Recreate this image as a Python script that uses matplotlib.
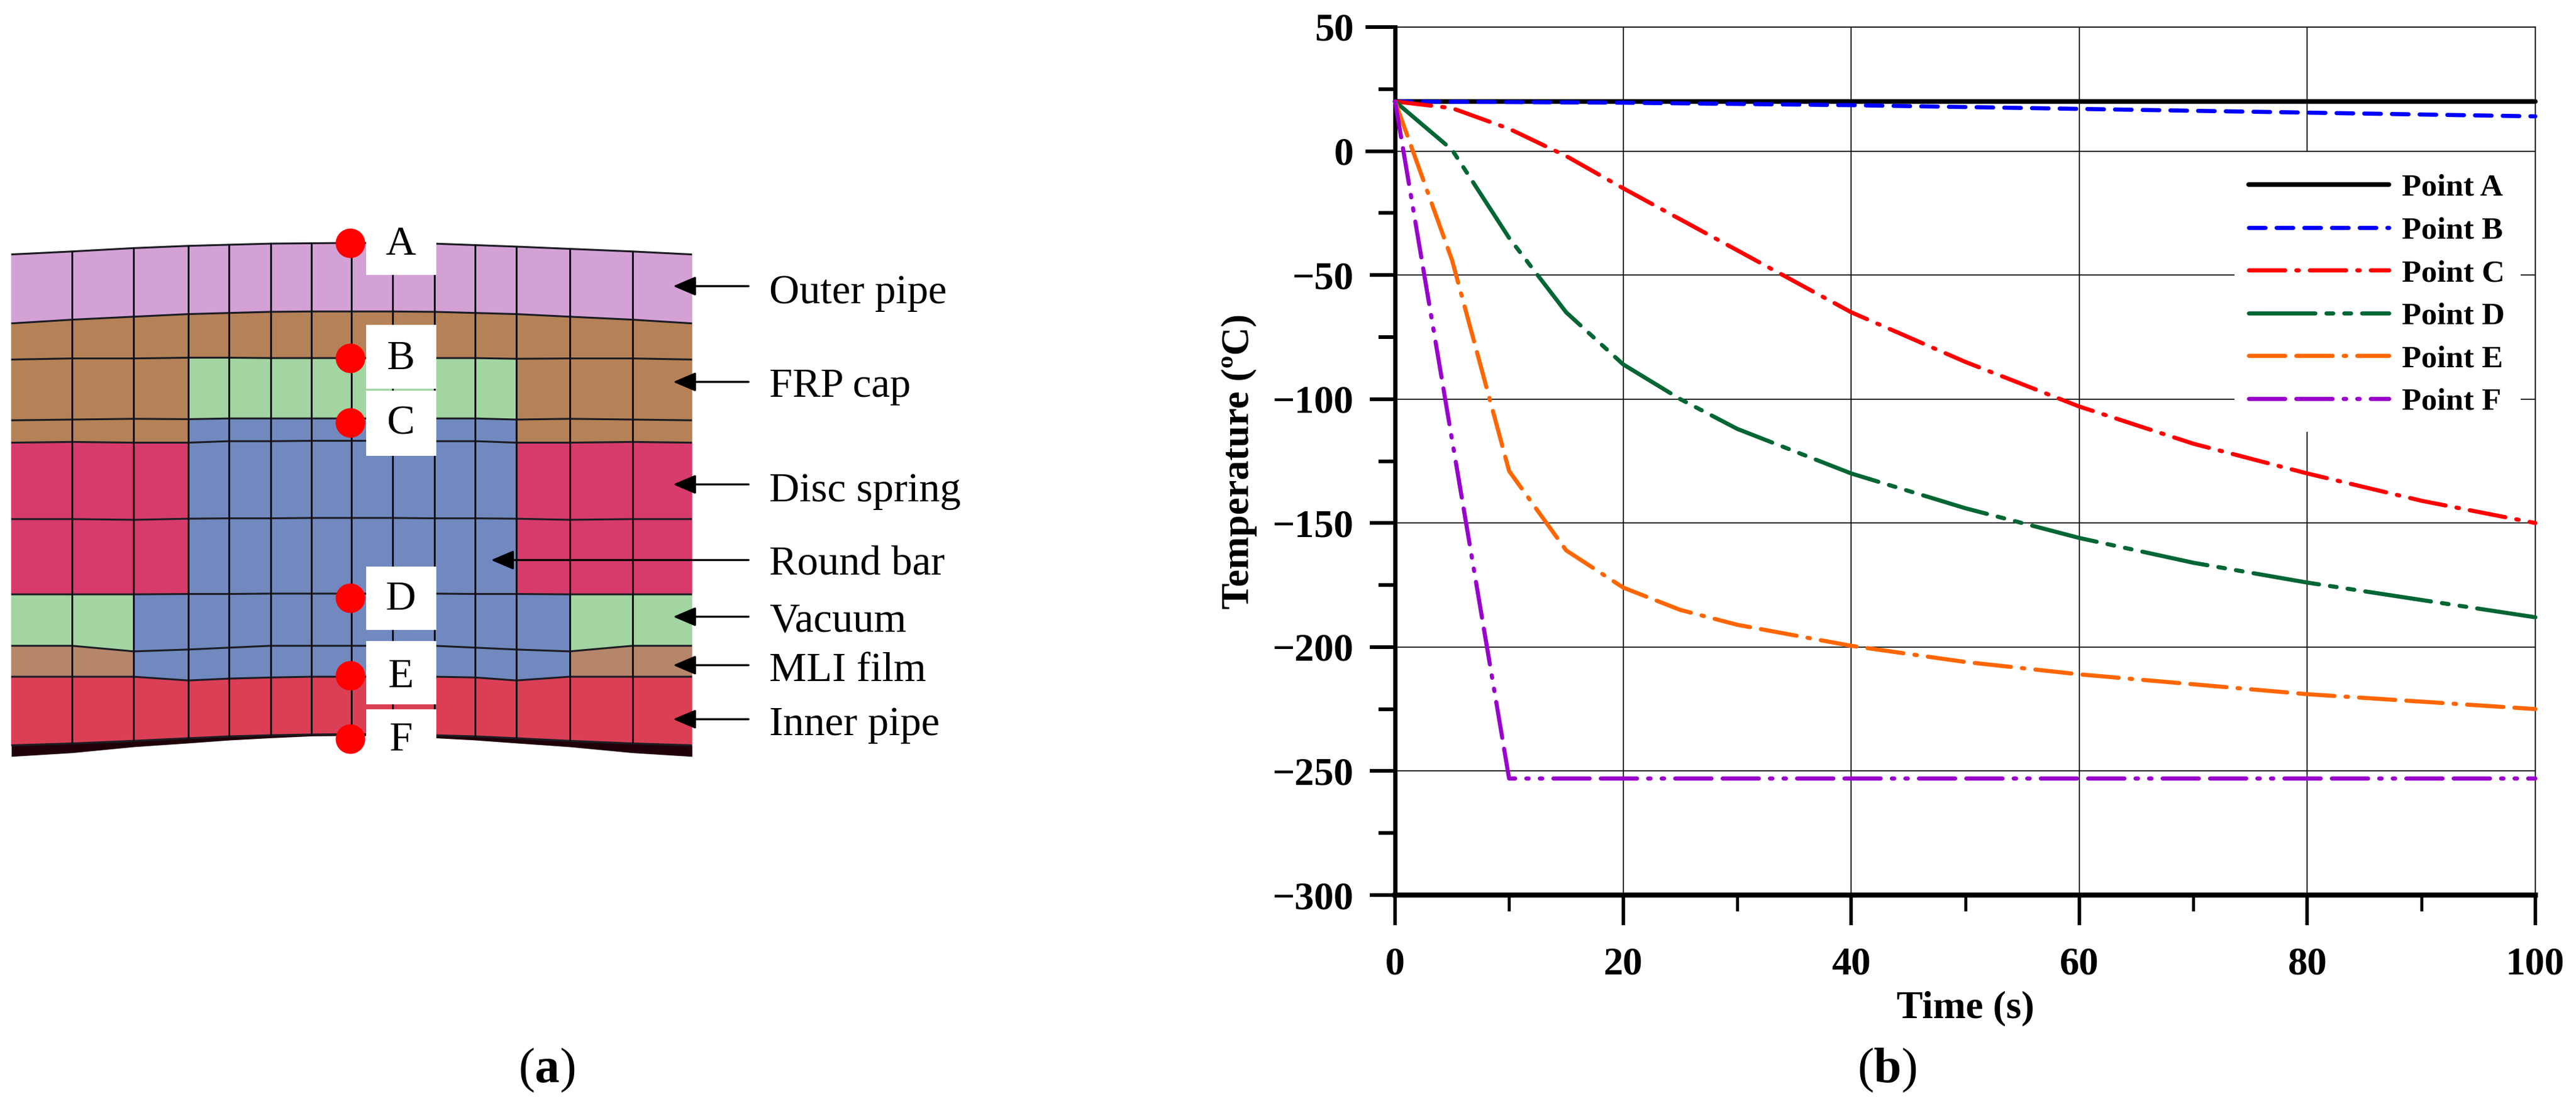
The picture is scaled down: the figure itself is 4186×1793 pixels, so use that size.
import matplotlib
matplotlib.use("Agg")
import matplotlib.pyplot as plt
from matplotlib.patches import Polygon, Rectangle
from matplotlib.transforms import Affine2D
from matplotlib.ticker import MultipleLocator, FixedLocator

plt.rcParams['font.family'] = ['Liberation Serif', 'DejaVu Serif']
plt.rcParams['mathtext.fontset'] = 'custom'
plt.rcParams['mathtext.rm'] = 'Liberation Serif'
plt.rcParams['mathtext.bf'] = 'Liberation Serif:bold'
plt.rcParams['lines.scale_dashes'] = False

W, H = 4186, 1793
DPI = 100

# ---------------- data: temperature curves ----------------
time_a = [0, 100]
temp_a = [20, 20]
time_b = [0, 20, 40, 60, 80, 100]
temp_b = [20, 19.5, 18.5, 17, 15.5, 14]
time_c = [0, 5, 10, 15, 20, 30, 40, 50, 60, 70, 80, 90, 100]
temp_c = [20, 17.3, 9, -2, -15, -40, -65, -85, -103, -118, -130, -141, -150]
time_d = [0, 5, 10, 15, 20, 25, 30, 40, 50, 60, 70, 80, 90, 100]
temp_d = [20, 0.5, -35, -65, -86, -100, -112, -130, -144, -156, -166, -174, -181, -188]
time_e = [0, 5, 10, 15, 20, 25, 30, 40, 50, 60, 70, 80, 90, 100]
temp_e = [20, -44, -129, -161, -176, -185, -191, -199.5, -206, -211, -215, -219, -222, -225]
time_f = [0, 10, 100]
temp_f = [20, -253, -253]
series_names = ['Point A', 'Point B', 'Point C', 'Point D', 'Point E', 'Point F']
series_colors = ['#000000', '#0000FF', '#FF0000', '#006633', '#FF6600', '#9900CC']
px = 0.72
series_styles = ['-',
                 (0, (27*px, 18*px)),
                 (0, (59*px, 18*px, 4*px, 18*px)),
                 (0, (108*px, 18*px, 11*px, 18*px, 11*px, 18*px)),
                 (0, (59*px, 18*px, 59*px, 18*px, 4*px, 18*px)),
                 (0, (59*px, 18*px, 59*px, 18*px, 4*px, 18*px, 4*px, 18*px))]
y_major = [50, 0, -50, -100, -150, -200, -250, -300]
y_labels = ['50', '0', '\u221250', '\u2212100', '\u2212150', '\u2212200', '\u2212250', '\u2212300']
x_major = [0, 20, 40, 60, 80, 100]

# ---------------- data: mesh of the left panel ----------------
col_x = [18, 115, 213, 300, 365, 431, 496, 560, 625, 692, 757, 822, 907, 1007, 1102]
row_y = [
    [105, 97, 88, 82, 79, 76, 75, 74, 75, 76, 80, 84, 90, 97, 105],
    [290, 280, 272, 265, 262, 259, 258, 258, 258, 259, 262, 265, 272, 280, 290],
    [387, 384, 384, 382, 382, 383, 383, 383, 383, 383, 383, 385, 384, 384, 387],
    [550, 548, 546, 547, 545, 545, 545, 545, 545, 545, 545, 548, 546, 548, 550],
    [610, 608, 610, 610, 606, 606, 605, 605, 605, 606, 606, 610, 610, 608, 610],
    [815, 815, 817, 814, 813, 813, 812, 812, 812, 813, 813, 814, 817, 815, 815],
    [1017, 1017, 1017, 1016, 1016, 1015, 1015, 1015, 1015, 1015, 1016, 1016, 1017, 1017, 1017],
    [1155, 1155, 1170, 1165, 1160, 1155, 1155, 1155, 1155, 1155, 1160, 1165, 1170, 1155, 1155],
    [1238, 1238, 1238, 1248, 1243, 1240, 1238, 1238, 1238, 1238, 1240, 1248, 1238, 1238, 1238],
    [1422, 1417, 1410, 1403, 1398, 1395, 1393, 1392, 1393, 1395, 1398, 1403, 1410, 1417, 1422],
]
base_y = [1452, 1442, 1426, 1416, 1408, 1402, 1397, 1396, 1397, 1402, 1408, 1416, 1426, 1442, 1452]
regions = ['P' * 14,
           'T' * 14,
           'TTT' + 'G' * 8 + 'TTT',
           'TTT' + 'U' * 8 + 'TTT',
           'CCC' + 'U' * 8 + 'CCC',
           'CCC' + 'U' * 8 + 'CCC',
           'GG' + 'U' * 10 + 'GG',
           'LL' + 'U' * 10 + 'LL',
           'R' * 14]
region_colors = {'P': '#D4A1D5', 'T': '#B58258', 'G': '#A2D5A2', 'U': '#7189BF',
                 'C': '#D63B6B', 'L': '#B6866A', 'R': '#DA3F56'}
box_x = [583, 695]
box_spans = [(70, 160), (293, 465), (470, 645), (942, 1112), (1142, 1312), (1326, 1455)]
point_letters = ['A', 'B', 'C', 'D', 'E', 'F']
point_y = [75, 383, 557, 1027, 1235, 1405]
point_x = 558
part_names = ['Outer pipe', 'FRP cap', 'Disc spring', 'Round bar', 'Vacuum', 'MLI film', 'Inner pipe']
part_arrow_y = [190, 447, 722, 925, 1077, 1207, 1352]
part_arrow_tip = [1072, 1072, 1072, 782, 1072, 1072, 1072]
part_text_y = [208, 460, 740, 938, 1090, 1222, 1368]

fig = plt.figure(figsize=(W / DPI, H / DPI), dpi=DPI, facecolor='white')

# ---------------- left panel ----------------
axa = fig.add_axes([0, 1 - 1300 / H, 1600 / W, 950 / H])
axa.set_xlim(0, 1568)
axa.set_ylim(1568, 0)
axa.axis('off')
for r, code in enumerate(regions):
    for c, k in enumerate(code):
        pts = [(col_x[c], row_y[r][c]), (col_x[c + 1], row_y[r][c + 1]),
               (col_x[c + 1], row_y[r + 1][c + 1]), (col_x[c], row_y[r + 1][c])]
        axa.add_patch(Polygon(pts, closed=True, facecolor=region_colors[k], edgecolor=region_colors[k], lw=0.5))
axa.fill_between(col_x, row_y[-1], base_y, color='#200008', lw=0)
for ys in row_y:
    axa.plot(col_x, ys, color='#1c1c24', lw=2.2, solid_capstyle='butt')
for c, x in enumerate(col_x[1:-1], start=1):
    axa.plot([x, x], [row_y[0][c], row_y[-1][c]], color='#101018', lw=2.2)
for (y0, y1), letter, y in zip(box_spans, point_letters, point_y):
    axa.add_patch(Rectangle((box_x[0], y0), box_x[1] - box_x[0], y1 - y0, facecolor='white', edgecolor='none', zorder=4))
    axa.text(638, y + 3, letter, fontsize=49, ha='center', va='center', zorder=6)
axa.scatter([point_x] * len(point_y), point_y, s=1195, color='#FF0000', linewidths=0, zorder=5)
for name, ay, tip, ty in zip(part_names, part_arrow_y, part_arrow_tip, part_text_y):
    axa.annotate('', xy=(tip, ay), xytext=(1192, ay), zorder=6,
                 arrowprops=dict(arrowstyle='-|>,head_length=0.75,head_width=0.32', color='black', lw=2.4,
                                 shrinkA=0, shrinkB=0, mutation_scale=30))
    axa.text(1225, ty, name, fontsize=49, ha='left', va='center', zorder=6, clip_on=False)

# ---------------- right panel ----------------
L, R, T, B = 2267, 4120, 44, 1455
ax = fig.add_axes([L / W, 1 - B / H, (R - L) / W, (B - T) / H])
ax.set_xlim(0, 100)
ax.set_ylim(-300, 50)
ax.xaxis.set_major_locator(FixedLocator(x_major))
ax.xaxis.set_minor_locator(MultipleLocator(10))
ax.yaxis.set_major_locator(FixedLocator(y_major))
ax.yaxis.set_minor_locator(MultipleLocator(25))
ax.set_xticklabels([str(v) for v in x_major], fontsize=46, fontweight='bold')
ax.set_yticklabels(y_labels, fontsize=46, fontweight='bold')
ax.grid(True, which='major', color='black', lw=1.2, zorder=1)
ax.set_axisbelow(True)
ax.tick_params(axis='y', which='major', length=29.5, width=4.3, pad=19)
ax.tick_params(axis='y', which='minor', length=19.4, width=4.3)
ax.tick_params(axis='x', which='major', length=35, width=4, pad=26)
ax.tick_params(axis='x', which='minor', length=19, width=3.5)
for tick, v in zip(ax.yaxis.get_major_ticks(), y_major):
    if v >= 0:
        tick.tick1line.set_markersize(34.5)
for s in ('top', 'right'):
    ax.spines[s].set_linewidth(1.2)
ax.spines['left'].set_linewidth(5)
ax.spines['bottom'].set_linewidth(6)
blank = Rectangle((3631, 247), 465, 455, facecolor='white', edgecolor='none', zorder=1.5)
ax.add_patch(blank)
blank.set_transform(Affine2D().scale(1, -1).translate(0, H))

curves = [(time_a, temp_a), (time_b, temp_b), (time_c, temp_c), (time_d, temp_d), (time_e, temp_e), (time_f, temp_f)]
for (t, v), name, col, ls in zip(curves, series_names, series_colors, series_styles):
    ax.plot(t, v, color=col, lw=4.8 if name != 'Point A' else 5.4, ls=ls, label=name, clip_on=False, zorder=3,
            dash_capstyle='round', solid_capstyle='round', dash_joinstyle='round')

leg = ax.legend(loc='upper left', bbox_to_anchor=((3654 - L) / (R - L), 1 - (282 - T) / (B - T)),
                frameon=False, handlelength=4.44, handletextpad=0.41,
                labelspacing=0.44, borderpad=0, borderaxespad=0,
                prop={'size': 37, 'weight': 'bold'})
ax.set_xlabel('Time (s)', fontsize=46, fontweight='bold')
ax.xaxis.set_label_coords(0.5, 1 - (1639 - T) / (B - T))
ax.xaxis.label.set_verticalalignment('center')
ax.set_ylabel('Temperature (\u00baC)', fontsize=46, fontweight='bold')
ax.yaxis.set_label_coords((2014 - L) / (R - L), 0.5)
ax.yaxis.label.set_verticalalignment('center')

# ---------------- panel captions ----------------
fig.text(888 / W, 1 - 1740 / H, r'($\mathbf{a}$)', fontsize=58, ha='center', va='center')
fig.text(3066 / W, 1 - 1740 / H, r'($\mathbf{b}$)', fontsize=58, ha='center', va='center')

fig.savefig('out.png', dpi=DPI, facecolor='white')
